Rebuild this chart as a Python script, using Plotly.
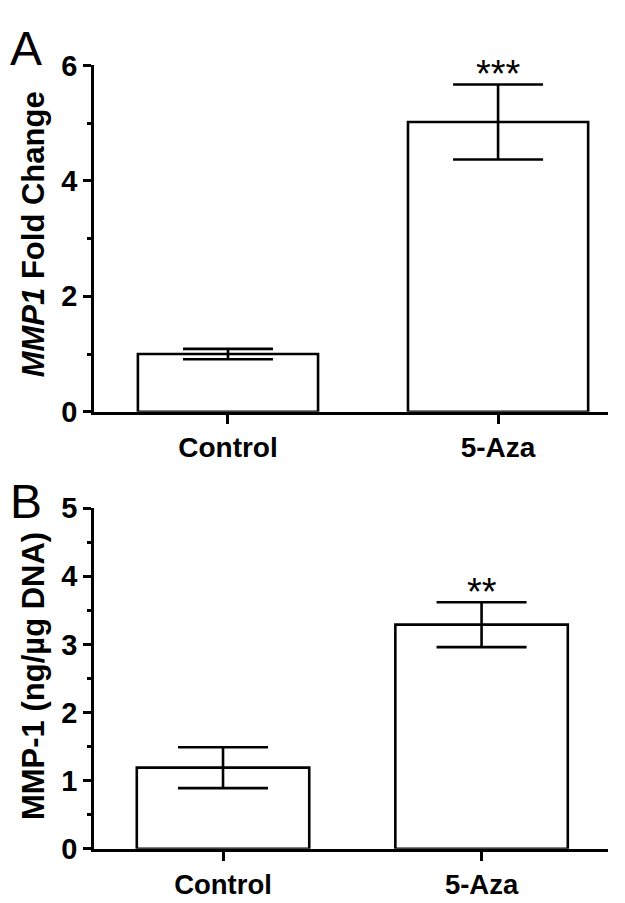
import plotly.graph_objects as go

categories = ["Control", "5-Aza"]
fold_change = [1.00, 5.02]
fold_change_err = [0.09, 0.65]
fold_sig = ["", "***"]
mmp1_protein = [1.19, 3.29]
mmp1_protein_err = [0.30, 0.33]
protein_sig = ["", "**"]

W, H = 625, 903
FONT = "Liberation Sans, Arial, Helvetica, sans-serif"
LW = 2.6

fig = go.Figure()

def add_bars(vals, errs, xa, ya):
    fig.add_trace(go.Bar(
        x=categories, y=vals,
        width=0.667,
        marker=dict(color="white", line=dict(color="black", width=LW)),
        error_y=dict(type="data", array=errs, visible=True, color="black",
                     thickness=LW, width=45),
        xaxis=xa, yaxis=ya, showlegend=False,
    ))

add_bars(fold_change, fold_change_err, "x", "y")
add_bars(mmp1_protein, mmp1_protein_err, "x2", "y2")

def px_x(p):
    return p / W

def px_y(p):
    return 1 - p / H

def tf(size):
    return dict(family=FONT, size=size, color="black", weight="bold")

common_x = dict(
    type="category", showline=True, linecolor="black", linewidth=LW,
    ticks="outside", ticklen=9, tickwidth=LW, tickcolor="black",
    showgrid=False, zeroline=False,
)
common_y = dict(
    showline=True, linecolor="black", linewidth=LW,
    ticks="outside", ticklen=8, tickwidth=LW, tickcolor="black",
    showgrid=False, zeroline=False,
)

fig.update_layout(
    width=W, height=H,
    margin=dict(l=0, r=0, t=0, b=0),
    paper_bgcolor="white", plot_bgcolor="white",
    bargap=0.333,
    xaxis=dict(common_x, domain=[px_x(86), px_x(600)], range=[-0.496, 1.407], anchor="y",
               tickfont=tf(28)),
    yaxis=dict(common_y, domain=[px_y(402), px_y(43)], range=[0, 6], tickvals=[0, 2, 4, 6],
               tickfont=tf(29),
               minor=dict(tickvals=[1, 3, 5], ticks="outside", ticklen=4, tickwidth=LW, tickcolor="black"),
               anchor="x"),
    xaxis2=dict(common_x, domain=[px_x(86), px_x(600)], range=[-0.499, 1.489], anchor="y2",
                tickfont=tf(27.5)),
    yaxis2=dict(common_y, domain=[px_y(855), px_y(502)], range=[0, 5], tickvals=[0, 1, 2, 3, 4, 5],
                tickfont=tf(29),
                minor=dict(tickvals=[0.5, 1.5, 2.5, 3.5, 4.5], ticks="outside", ticklen=4, tickwidth=LW, tickcolor="black"),
                anchor="x2"),
)

annotations = []
# significance stars
for cat, v, e, s in zip(categories, fold_change, fold_change_err, fold_sig):
    if s:
        annotations.append(dict(x=cat, y=v + e, xref="x", yref="y", text=s, showarrow=False,
                                yanchor="bottom", yshift=-12,
                                font=dict(family=FONT, size=38, color="black")))
for cat, v, e, s in zip(categories, mmp1_protein, mmp1_protein_err, protein_sig):
    if s:
        annotations.append(dict(x=cat, y=v + e, xref="x2", yref="y2", text=s, showarrow=False,
                                yanchor="bottom", yshift=-13,
                                font=dict(family=FONT, size=38, color="black")))

# axis titles
annotations.append(dict(x=px_x(25), y=px_y(218), xref="paper", yref="paper",
                        text="<i>MMP1</i> Fold Change", textangle=-90, showarrow=False,
                        xanchor="center", yanchor="middle",
                        font=dict(family=FONT, size=31, color="black", weight="bold")))
annotations.append(dict(x=px_x(25), y=px_y(676), xref="paper", yref="paper",
                        text="MMP-1 (ng/µg DNA)", textangle=-90, showarrow=False,
                        xanchor="center", yanchor="middle",
                        font=dict(family=FONT, size=31, color="black", weight="bold")))
# panel letters
annotations.append(dict(x=px_x(0), y=px_y(-4), xref="paper", yref="paper", text="A",
                        showarrow=False, xanchor="left", yanchor="top",
                        font=dict(family=FONT, size=48, color="black")))
annotations.append(dict(x=px_x(0), y=px_y(465), xref="paper", yref="paper", text="B",
                        showarrow=False, xanchor="left", yanchor="top",
                        font=dict(family=FONT, size=48, color="black")))

fig.update_layout(annotations=annotations)

fig.write_html("out.html")
